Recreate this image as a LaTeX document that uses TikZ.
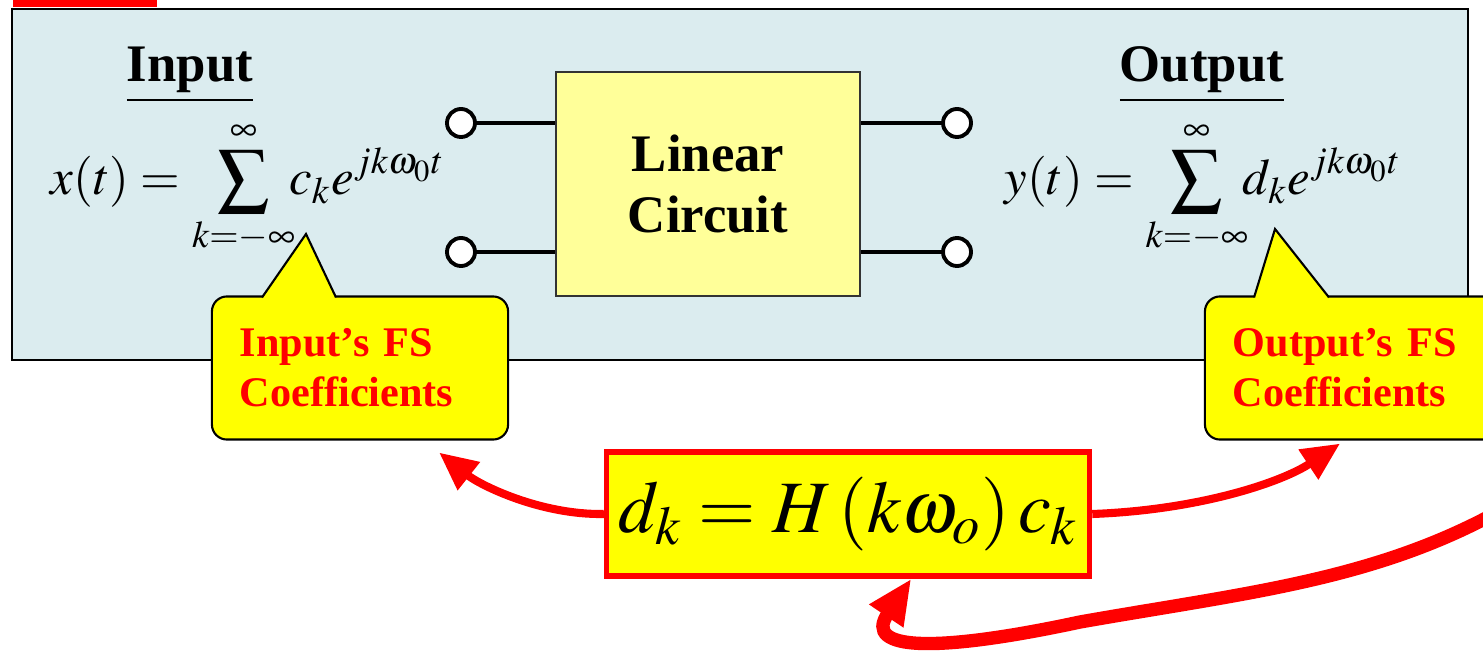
\documentclass[tikz,border=0pt]{standalone}
\usepackage{mathptmx}
\usepackage{fontspec}
\setmainfont{Liberation Serif}
\usetikzlibrary{positioning, arrows.meta, calc}
\definecolor{panelblue}{RGB}{219,236,239}
\definecolor{boxyellow}{RGB}{255,255,153}
\definecolor{callyellow}{RGB}{255,255,0}
\definecolor{hotred}{RGB}{255,0,0}

\begin{document}
\begin{tikzpicture}[x=0.01cm, y=-0.01cm,
    terminal/.style={circle, draw, fill=white, line width=1.1pt, minimum size=0.28cm, inner sep=0pt},
    wire/.style={line width=0.9pt},
    circuitbox/.style={draw=black!80, fill=boxyellow, line width=0.6pt, minimum width=3.04cm, minimum height=2.24cm, align=center, font=\fontsize{15}{17.4}\selectfont\bfseries},
    callbox/.style={draw, fill=callyellow, rounded corners=0.15cm, line width=0.6pt, minimum width=2.96cm, minimum height=1.43cm, text width=2.4cm, align=left, text=hotred, font=\fontsize{12}{14.2}\selectfont\bfseries},
    lawbox/.style={draw=hotred, fill=callyellow, line width=1.5pt, minimum width=4.8cm, minimum height=1.24cm, font=\fontsize{21}{25}\selectfont},
    redarrow/.style={hotred, line width=2.3pt, -{Triangle[length=0.38cm, width=0.34cm]}},
    heading/.style={font=\fontsize{15}{17}\selectfont\bfseries},
    series/.style={font=\fontsize{14.5}{17}\selectfont}]

    \useasboundingbox (0,0) rectangle (1483,655);

    % panel with the circuit
    \draw[fill=panelblue, line width=0.6pt] (12,9) rectangle (1468,360);
    \fill[hotred] (13,0) rectangle (157,7);

    \node[heading] (inhead) at (190,75) {\underline{Input}};
    \node[heading] (outhead) at (1202,75) {\underline{Output}};
    \node[series] (xsum) at (248,188)
      {$x(t) = \displaystyle\sum_{k=-\infty}^{\infty}\!\! c_k e^{jk\omega_0 t}$};
    \node[series] (ysum) at (1203,188)
      {$y(t) = \displaystyle\sum_{k=-\infty}^{\infty}\!\! d_k e^{jk\omega_0 t}$};

    \node[circuitbox] (lc) at (708,184) {Linear\\Circuit};
    \node[terminal] (inA) at (461,123) {};
    \node[terminal] (inB) at (461,252) {};
    \node[terminal] (outA) at (957,123) {};
    \node[terminal] (outB) at (957,252) {};
    \draw[wire] (inA) -- (inA -| lc.west);
    \draw[wire] (inB) -- (inB -| lc.west);
    \draw[wire] (outA) -- (outA -| lc.east);
    \draw[wire] (outB) -- (outB -| lc.east);

    % callouts
    \node[callbox] (incall) at (360,368) {Input’s FS\\Coefficients};
    \coordinate (inTip) at (306,234);
    \fill[callyellow] (262,297) -- (inTip) -- (336,297) -- (336,301) -- (262,301) -- cycle;
    \draw[line width=0.6pt] (262,297.5) -- (inTip) -- (336,297.5);

    \node[callbox] (outcall) at (1353,368) {Output’s FS\\Coefficients};
    \coordinate (outTip) at (1275,229);
    \fill[callyellow] (1254,297) -- (outTip) -- (1329,297) -- (1329,301) -- (1254,301) -- cycle;
    \draw[line width=0.6pt] (1254,297.5) -- (outTip) -- (1329,297.5);

    % relation between the coefficients
    \node[lawbox] (law) at (848,514) {$d_{k} = H\,(k\omega_{o})\,c_{k}$};
    \coordinate (fromRight) at (1510,505);

    \draw[redarrow] (law.west) .. controls (540,515) and (480,485) .. ([shift={(-70,12)}]incall.south east);
    \draw[redarrow] (law.east) .. controls (1200,510) and (1282,482) .. ([shift={(-13,3)}]outcall.south);
    \draw[redarrow, line width=3.8pt, -{Triangle[length=0.45cm, width=0.38cm]}] (fromRight)
      .. controls (1380,580) and (1250,592) .. (1080,622)
      .. controls (940,652) and (862,652) .. ([xshift=18]law.south);
\end{tikzpicture}
\end{document}
